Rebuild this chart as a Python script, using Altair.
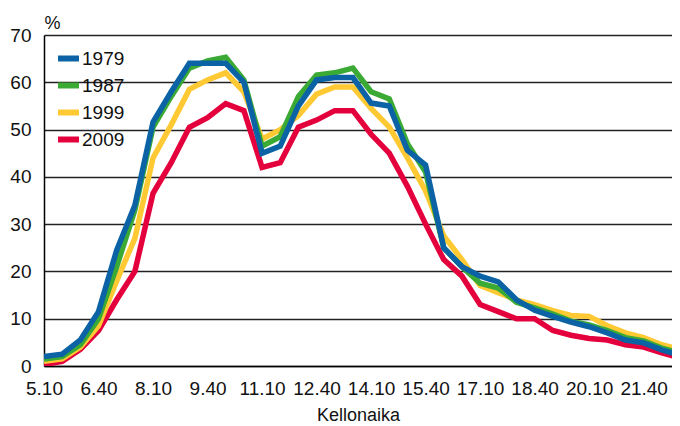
import altair as alt
import pandas as pd

times = ["5.10", "5.40", "6.10", "6.40", "7.10", "7.40", "8.10", "8.40", "9.10", "9.40",
         "10.10", "10.40", "11.10", "11.40", "12.10", "12.40", "13.10", "13.40", "14.10", "14.40",
         "15.10", "15.40", "16.10", "16.40", "17.10", "17.40", "18.10", "18.40", "19.10", "19.40",
         "20.10", "20.40", "21.10", "21.40", "22.10", "22.40"]

y1979 = [2, 2.5, 5.5, 11.5, 24.5, 34, 51.6, 58, 64, 64, 64, 60, 45, 46.5, 55, 60.5, 61, 61,
         55.6, 55, 45.6, 42.5, 25, 21, 19, 17.8, 14, 11.8, 10.5, 9.3, 8.3, 7, 5.5, 4.9, 3.4, 2.3]
y1987 = [1.5, 2, 4.5, 10, 21, 33, 50.5, 57, 63, 64.5, 65.3, 60.5, 46.5, 48.5, 57, 61.5, 62, 63,
         58, 56.5, 47, 41, 25, 21, 17.5, 16.5, 13.5, 12.3, 11, 9.5, 8.7, 7.5, 6, 5.3, 3.8, 2.7]
y1999 = [1, 1.5, 4, 8.5, 18, 27, 44, 51, 58.5, 60.5, 62, 58, 48, 50, 53, 57.5, 59, 59,
         54.5, 50.5, 44, 37, 27.5, 22.5, 17, 15.5, 14, 13, 11.7, 10.7, 10.5, 8.5, 7, 6, 4.5, 3.5]
y2009 = [0.3, 1, 3.5, 7.5, 14, 20, 36.5, 43, 50.5, 52.5, 55.5, 54, 42, 43, 50.5, 52, 54, 54,
         49, 45, 38, 30, 22.5, 19, 13, 11.5, 10, 10, 7.5, 6.5, 5.8, 5.5, 4.5, 4, 2.8, 1.7]

series = {"1979": y1979, "1987": y1987, "1999": y1999, "2009": y2009}
years = ["1979", "1987", "1999", "2009"]
colors = ["#0b62a4", "#3aaa35", "#ffc933", "#e4003c"]

rows = []
for yr in years:
    for i, (t, v) in enumerate(zip(times, series[yr])):
        rows.append({"idx": i, "time": t, "year": yr, "value": v})
df = pd.DataFrame(rows)

label_list = "[" + ",".join("'%s'" % t for t in times) + "]"

W = 628
H = 331
xmax = 35 * W / 636.0

FONT = "Liberation Sans"

x_enc = alt.X("idx:Q",
              scale=alt.Scale(domain=[0, xmax], nice=False, zero=False),
              axis=alt.Axis(values=list(range(0, 34, 3)),
                            labelExpr=label_list + "[datum.value]",
                            title="Kellonaika", grid=False, ticks=False,
                            labelFontSize=19, labelPadding=13, labelColor="#111",
                            labelFont=FONT, titleFont=FONT, titleFontSize=18,
                            titleFontWeight="normal", titleColor="#111", titlePadding=8,
                            domainColor="#000", domainWidth=1.5, labelFlush=False,
                            labelOverlap=False))
y_enc = alt.Y("value:Q",
              scale=alt.Scale(domain=[0, 70], nice=False),
              axis=alt.Axis(values=list(range(0, 71, 10)), title="%", titleAngle=0,
                            titleX=0, titleY=-7, titleAlign="left", titleBaseline="alphabetic",
                            titleFont=FONT, titleFontSize=18, titleFontWeight="normal",
                            titleColor="#111", ticks=False,
                            labelFontSize=19, labelPadding=13, labelColor="#111", labelFont=FONT,
                            gridColor="#222", gridWidth=1.5, domainColor="#000", domainWidth=1.5))
color_enc = alt.Color("year:N",
                      scale=alt.Scale(domain=years, range=colors),
                      legend=alt.Legend(orient="none", legendX=11, legendY=10, title=None,
                                        symbolType="stroke", symbolSize=440,
                                        symbolStrokeWidth=6, labelFontSize=19,
                                        labelFont=FONT, labelColor="#111",
                                        labelOffset=0, rowPadding=1, padding=0))

layers = []
for yr in ["2009", "1999", "1987", "1979"]:
    layers.append(
        alt.Chart(df).transform_filter(alt.datum.year == yr)
        .mark_line(strokeWidth=5.5, clip=True, strokeJoin="miter")
        .encode(x=x_enc, y=y_enc, color=color_enc)
    )

chart = alt.layer(*layers).properties(
    width=W, height=H,
    autosize=alt.AutoSizeParams(type="none"),
    padding={"left": 36, "top": 27, "right": 0, "bottom": 60},
).configure_view(stroke=None).configure(background="white")

chart.save("out.html", embed_options={"renderer": "svg", "actions": False})
